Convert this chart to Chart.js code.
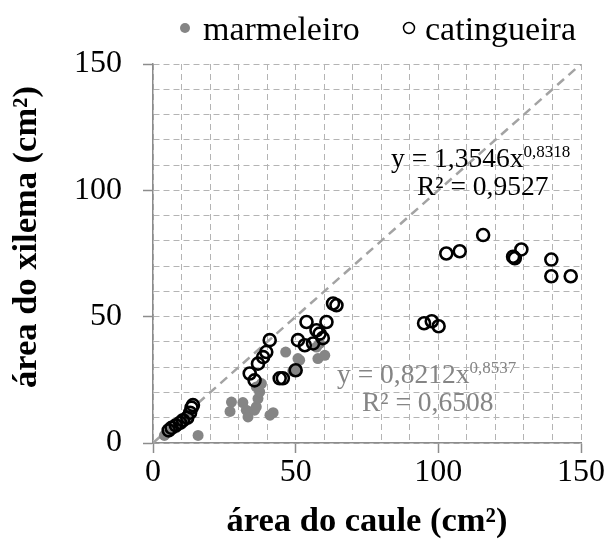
<!DOCTYPE html>
<html>
<head>
<meta charset="utf-8">
<script src="https://cdn.jsdelivr.net/npm/chart.js@4.4.1/dist/chart.umd.min.js"></script>
<style>
    html, body { margin: 0; padding: 0; background: #fff; }
    #chart { display: block; }
</style>
</head>
<body>
<canvas id="chart" width="608" height="547"></canvas>
<script>
// stem area vs xylem area, two species
const marmeleiroX = [4, 6, 8, 10, 12, 15.8,
    27.5, 27, 31.5, 32.7, 33.3, 35.6, 36.2, 36.8, 37.4, 38, 36.2, 42.1, 41,
    46.5, 49, 50.3, 51.4, 50.8, 57.3, 57.8, 60.2, 58.4];
const marmeleiroY = [3, 5, 6, 8, 10, 3,
    16.2, 12.5, 16, 13, 10.3, 13, 14.3, 17.6, 20.2, 23.5, 22.2, 12, 11,
    36, 28.5, 29, 32.8, 33.4, 38, 33.4, 34.7, 39.4];

const catingueiraX = [5.5, 6.5, 8, 9.5, 10.5, 12, 13, 13.5, 14,
    33.9, 35.6, 36.8, 38.6, 39.7, 40.9, 44.4, 45.5, 50,
    50.8, 53.2, 56.1, 57.3, 58.4, 59.5, 53.8, 60.8, 63.1, 64.3,
    95, 97.7, 100.1,
    102.8, 107.5, 115.7, 126.2, 126.8, 129.1, 139.6, 139.6, 146.4];
const catingueiraY = [5, 6, 7, 8, 9, 10, 12, 14, 15,
    27.5, 24.8, 31.4, 34, 36, 40.7, 25.6, 25.6, 28.8,
    40.7, 38.7, 39.4, 44.6, 43.3, 41.5, 47.9, 47.9, 55.2, 54.5,
    47.4, 48.2, 46.2,
    75, 75.9, 82.3, 73.7, 73.1, 76.6, 72.6, 66, 66];

// 1:1 reference line
const identityLine = [0, 150];

const axisMax = 150;
const minorStep = 10;
const majorStep = 50;

const seriesNames = ['marmeleiro', 'catingueira'];
const fitCatingueira = ['y = 1,3546x', '0,8318', 'R² = 0,9527'];
const fitMarmeleiro = ['y = 0,8212x', '0,8537', 'R² = 0,6508'];

const serif = '"Liberation Serif", "Times New Roman", serif';
const grayMark = '#858585';
const grayText = '#858585';

const toPoints = (xs, ys) => xs.map((x, i) => ({ x: x, y: ys[i] }));

// legend, fit equations and the y title drawn straight on the canvas
const labelsPlugin = {
    id: 'labels',
    afterDraw(chart) {
        const ctx = chart.ctx;
        ctx.save();

        // legend
        ctx.fillStyle = grayMark;
        ctx.beginPath();
        ctx.arc(185, 28, 5, 0, Math.PI * 2);
        ctx.fill();
        ctx.strokeStyle = '#000';
        ctx.lineWidth = 1.5;
        ctx.beginPath();
        ctx.arc(409, 28, 5.5, 0, Math.PI * 2);
        ctx.stroke();
        ctx.fillStyle = '#000';
        ctx.font = '34px ' + serif;
        ctx.textBaseline = 'alphabetic';
        ctx.textAlign = 'left';
        ctx.fillText(seriesNames[0], 203, 40);
        ctx.fillText(seriesNames[1], 425, 40);

        // power fits
        const drawFit = (lines, x1, y1, x2, y2, color) => {
            ctx.fillStyle = color;
            ctx.font = '27.5px ' + serif;
            ctx.fillText(lines[0], x1, y1);
            const w = ctx.measureText(lines[0]).width;
            ctx.fillText(lines[2], x2, y2);
            ctx.font = '17px ' + serif;
            ctx.fillText(lines[1], x1 + w, y1 - 10);
        };
        drawFit(fitCatingueira, 391, 167, 417, 195, '#000');
        drawFit(fitMarmeleiro, 337, 383, 362, 411, grayText);

        // y axis title
        ctx.translate(27, 237);
        ctx.rotate(-Math.PI / 2);
        ctx.fillStyle = '#000';
        ctx.font = 'bold 34.5px ' + serif;
        ctx.textAlign = 'center';
        ctx.textBaseline = 'middle';
        ctx.fillText('área do xilema (cm²)', 0, 0);
        ctx.restore();
    }
};

const gridOpts = {
    color: '#b4b4b4',
    lineWidth: 1,
    tickLength: 10,
    tickWidth: 1.5,
    tickColor: c => (c.tick && c.tick.value % majorStep === 0) ? '#8c8c8c' : 'transparent'
};
const borderOpts = { color: '#8c8c8c', width: 1.5, dash: [6, 4] };
const tickLabel = v => (v % majorStep === 0 ? v : '');

new Chart(document.getElementById('chart').getContext('2d'), {
    type: 'scatter',
    data: {
        datasets: [{
            label: seriesNames[1],
            data: toPoints(catingueiraX, catingueiraY),
            pointRadius: 6,
            pointBorderWidth: 2.6,
            pointBackgroundColor: 'rgba(0,0,0,0)',
            pointBorderColor: '#000',
            order: 0
        }, {
            label: seriesNames[0],
            data: toPoints(marmeleiroX, marmeleiroY),
            pointRadius: 5.5,
            pointBorderWidth: 0,
            pointBackgroundColor: grayMark,
            pointBorderColor: grayMark,
            order: 1
        }, {
            type: 'line',
            label: '1:1',
            data: toPoints(identityLine, identityLine),
            borderColor: '#a3a3a3',
            borderWidth: 2.5,
            borderDash: [9, 6],
            pointRadius: 0,
            fill: false,
            order: 2
        }]
    },
    options: {
        responsive: false,
        animation: false,
        layout: {
            padding: { left: 0, right: 27, top: 64, bottom: 0 }
        },
        plugins: {
            legend: { display: false },
            tooltip: { enabled: false }
        },
        scales: {
            x: {
                type: 'linear',
                min: 0,
                max: axisMax,
                ticks: {
                    stepSize: minorStep,
                    autoSkip: false,
                    maxRotation: 0,
                    padding: 0,
                    color: '#000',
                    font: { family: serif, size: 32 },
                    callback: tickLabel
                },
                grid: gridOpts,
                border: borderOpts,
                title: {
                    display: true,
                    text: 'área do caule (cm²)',
                    color: '#000',
                    font: { family: serif, size: 34.5, weight: 'bold' },
                    padding: { top: 0, bottom: 4 }
                },
                afterFit: s => { s.height = 104; s.paddingLeft = 0; s.paddingRight = 0; }
            },
            y: {
                type: 'linear',
                min: 0,
                max: axisMax,
                ticks: {
                    stepSize: minorStep,
                    autoSkip: false,
                    padding: 21,
                    color: '#000',
                    font: { family: serif, size: 32 },
                    callback: tickLabel
                },
                grid: gridOpts,
                border: borderOpts,
                afterFit: s => { s.width = 153; s.paddingTop = 0; s.paddingBottom = 0; }
            }
        }
    },
    plugins: [labelsPlugin]
});
</script>
</body>
</html>
